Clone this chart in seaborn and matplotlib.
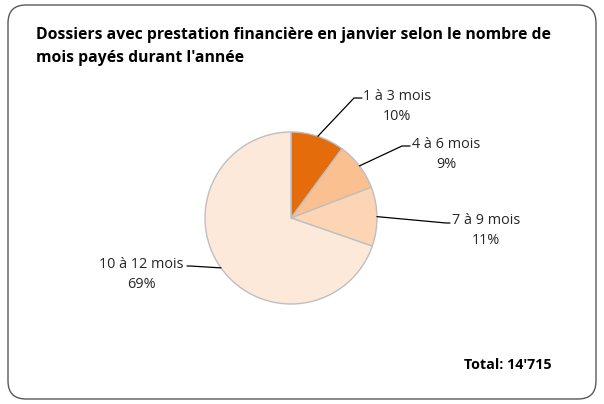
import numpy as np
import seaborn as sns
import matplotlib.pyplot as plt
from matplotlib.patches import FancyBboxPatch

categories = ["1 à 3 mois", "4 à 6 mois", "7 à 9 mois", "10 à 12 mois"]
shares = [10, 9, 11, 69]
share_labels = ["10%", "9%", "11%", "69%"]
total_label = "Total: 14'715"
title = ("Dossiers avec prestation financière en janvier selon le nombre de\n"
         "mois payés durant l'année")

sns.set_theme(style="white")
plt.rcParams["font.family"] = ["Open Sans", "DejaVu Sans"]

colors = ["#E46C0A", "#FAC090", "#FCD5B5", "#FDE9D9"]

W, H = 604, 404
fig = plt.figure(figsize=(W / 100, H / 100), dpi=100)
ax = fig.add_axes([0, 0, 1, 1])
ax.set_xlim(0, W)
ax.set_ylim(0, H)
ax.axis("off")

# rounded chart frame
frame = FancyBboxPatch((8, 5), W - 16, H - 10,
                       boxstyle="round,pad=0,rounding_size=18",
                       fc="white", ec="#595959", lw=1.0, zorder=0)
ax.add_patch(frame)

cx, cy, r = 291, H - 218, 86
wedges, _ = ax.pie(shares, colors=colors, startangle=90, counterclock=False,
                   center=(cx, cy), radius=r, frame=True,
                   wedgeprops=dict(edgecolor="#BFBFBF", linewidth=1.0))
ax.set_xlim(0, W)
ax.set_ylim(0, H)
ax.axis("off")

# label layout: (elbow x, elbow y, end x, text x, text y) in pixels from top
layout = [
    (354, 98, 362, 397, 96),
    (402, 146, 410, 446, 144),
    (446, 223, 450, 486, 220),
    (190, 266, 187, 141, 264),
]

for w, cat, pct, (ex, ey, lx, tx, ty) in zip(wedges, categories, share_labels, layout):
    mid = np.deg2rad((w.theta1 + w.theta2) / 2)
    sx, sy = cx + r * np.cos(mid), cy + r * np.sin(mid)
    ax.plot([sx, ex, lx], [sy, H - ey, H - ey], color="#000000", lw=0.9, zorder=3)
    ax.text(tx, H - ty, cat, ha="center", va="center", fontsize=10.4, color="#262626")
    ax.text(tx, H - ty - 20, pct, ha="center", va="center", fontsize=10.4, color="#262626")

ax.text(36, H - 27, title, ha="left", va="top", fontsize=11.3, fontweight="bold",
        color="#000000", linespacing=1.55)
ax.text(551, H - 365, total_label, ha="right", va="center", fontsize=10.3,
        fontweight="bold", color="#000000")

fig.savefig("out.png", dpi=100)
